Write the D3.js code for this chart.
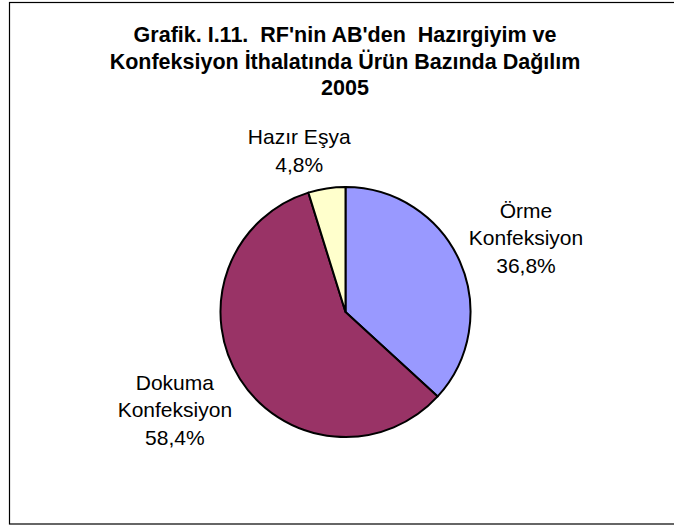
<!DOCTYPE html>
<html>
<head>
<meta charset="utf-8">
<script src="https://cdn.jsdelivr.net/npm/d3@7"></script>
<style>
  body { margin: 0; background: #fff; }
  svg { display: block; font-family: Arial, "Liberation Sans", sans-serif; }
  text { white-space: pre; }
</style>
</head>
<body>
<svg id="grafik" width="674" height="526"></svg>
<script>
// veriler
var titleLines = ["Grafik. I.11.  RF'nin AB'den  Hazırgiyim ve",
                  "Konfeksiyon İthalatında Ürün Bazında Dağılım",
                  "2005"];
var categories = ["Örme Konfeksiyon", "Dokuma Konfeksiyon", "Hazır Eşya"];
var labelLines = [["Örme", "Konfeksiyon"], ["Dokuma", "Konfeksiyon"], ["Hazır Eşya"]];
var values = [36.8, 58.4, 4.8];
var colors = ["#9999FF", "#993366", "#FFFFCC"];

var svg = d3.select("#grafik"),
    cx = 345.5, cy = 312, radius = 125,
    lineH = 27.5;

// çerçeve
svg.append("rect")
    .attr("x", 9.5).attr("y", 2.5)
    .attr("width", 700).attr("height", 521.5)
    .attr("fill", "none").attr("stroke", "#000").attr("stroke-width", 1.2);

// başlık
svg.append("g").selectAll("text")
    .data(titleLines)
    .enter().append("text")
        .attr("x", 345)
        .attr("y", function(d, i) { return 42 + i * 26.5; })
        .attr("text-anchor", "middle")
        .attr("font-weight", "bold")
        .attr("font-size", "21.5px")
        .text(function(d) { return d; });

var pie = d3.pie().sort(null).value(function(d) { return d; }),
    arc = d3.arc().innerRadius(0).outerRadius(radius),
    labelArc = d3.arc().innerRadius(radius * 1.56).outerRadius(radius * 1.56);

// etiket kaydırmaları (yerleşim)
var nudge = [[2, 5], [-6, -6], [-17, 32]];

var g = svg.append("g").attr("transform", "translate(" + cx + "," + cy + ")");
var arcs = pie(values);

g.selectAll("path")
    .data(arcs)
    .enter().append("path")
        .attr("d", arc)
        .attr("fill", function(d, i) { return colors[i]; })
        .attr("stroke", "#000")
        .attr("stroke-width", 2)
        .attr("stroke-linejoin", "round");

var labels = g.selectAll("g.lbl")
    .data(arcs)
    .enter().append("g")
        .attr("class", "lbl")
        .attr("transform", function(d, i) {
            var c = labelArc.centroid(d);
            return "translate(" + (c[0] + nudge[i][0]) + "," + (c[1] + nudge[i][1]) + ")";
        });

labels.each(function(d, i) {
    var lines = labelLines[i].concat([d3.format(".1f")(d.data).replace(".", ",") + "%"]);
    var n = lines.length;
    d3.select(this).selectAll("text")
        .data(lines)
        .enter().append("text")
            .attr("x", 0)
            .attr("y", function(t, j) { return (j - (n - 1) / 2) * lineH + 7; })
            .attr("text-anchor", "middle")
            .attr("font-size", "21px")
            .attr("fill", "#000")
            .text(function(t) { return t; });
});
</script>
</body>
</html>
